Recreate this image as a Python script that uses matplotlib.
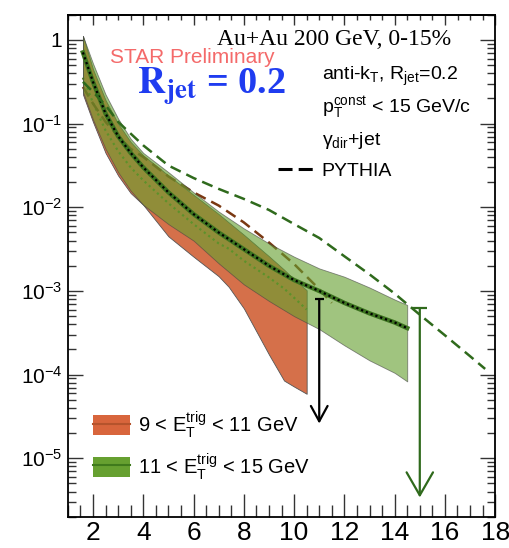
import matplotlib
matplotlib.use("Agg")
import matplotlib.pyplot as plt
from matplotlib.patches import Patch
from matplotlib.lines import Line2D
from matplotlib.ticker import MultipleLocator, LogLocator, NullFormatter

plt.rcParams['font.family'] = ['Liberation Sans', 'DejaVu Sans']
plt.rcParams['mathtext.fontset'] = 'custom'
plt.rcParams['mathtext.rm'] = 'Liberation Sans'
plt.rcParams['mathtext.it'] = 'Liberation Sans:italic'
plt.rcParams['mathtext.bf'] = 'Liberation Sans:bold'

# 9 < ET(trig) < 11 GeV : systematic band + central value
x_9_11 = [1.6, 2.0, 2.5, 3.0, 3.5, 4.0, 5.0, 6.0, 7.0, 7.4, 8.0, 9.0, 9.6, 10.0, 10.5]
hi_9_11 = [1.12, 0.447, 0.191, 0.100, 0.0603, 0.0417, 0.024, 0.0141, 8.3e-3, 6.6e-3,
           4.7e-3, 2.6e-3, 1.8e-3, 1.38e-3, 1.02e-3]
lo_9_11 = [0.224, 0.105, 0.0447, 0.024, 0.0148, 0.0107, 4.5e-3, 2.57e-3, 1.5e-3, 1.12e-3,
           6.2e-4, 1.74e-4, 8.5e-5, 7.2e-5, 5.9e-5]
mid_9_11 = [0.355, 0.178, 0.083, 0.047, 0.030, 0.021, 0.0112, 6.3e-3, 3.7e-3, 3.2e-3,
            2.3e-3, 1.45e-3, 1.07e-3, 8.3e-4, 6.0e-4]

# 11 < ET(trig) < 15 GeV
x_11_15 = [1.6, 2.0, 2.5, 3.0, 3.5, 4.0, 5.0, 6.0, 7.0, 8.0, 9.0, 10.0, 11.0, 12.0, 13.0, 14.0, 14.5]
hi_11_15 = [1.12, 0.525, 0.224, 0.115, 0.066, 0.0447, 0.0263, 0.0151, 8.9e-3, 5.6e-3,
            3.7e-3, 2.57e-3, 1.86e-3, 1.48e-3, 1.1e-3, 7.9e-4, 6.8e-4]
lo_11_15 = [0.24, 0.112, 0.05, 0.0263, 0.0158, 0.0107, 6.3e-3, 4.0e-3, 2.14e-3, 1.2e-3,
            7.6e-4, 5.0e-4, 3.5e-4, 2.24e-4, 1.48e-4, 1.05e-4, 8.3e-5]
mid_11_15 = [0.71, 0.316, 0.132, 0.0708, 0.0447, 0.030, 0.0151, 8.3e-3, 5.0e-3, 3.16e-3,
             2.0e-3, 1.35e-3, 1.0e-3, 7.2e-4, 5.4e-4, 4.2e-4, 3.6e-4]

# PYTHIA curves
x_py_9_11 = [1.6, 2.0, 2.5, 3.0, 3.5, 4.0, 5.0, 6.0, 7.0, 8.0, 9.0, 10.0, 11.0, 11.5]
py_9_11 = [0.275, 0.174, 0.105, 0.0708, 0.05, 0.04, 0.0234, 0.0151, 0.0105, 6.6e-3,
           3.8e-3, 2.1e-3, 1.05e-3, 7.2e-4]
x_py_11_15 = [1.6, 2.0, 2.5, 3.0, 3.5, 4.0, 5.0, 6.0, 7.0, 8.0, 9.0, 10.0, 11.0, 12.0,
              13.0, 14.0, 15.0, 16.0, 17.0, 17.6]
py_11_15 = [0.316, 0.24, 0.166, 0.105, 0.076, 0.055, 0.0316, 0.0224, 0.0166, 0.0126,
            9.3e-3, 6.3e-3, 4.3e-3, 2.6e-3, 1.58e-3, 9.3e-4, 5.2e-4, 2.95e-4, 1.66e-4, 1.17e-4]

# upper limits (x, top, arrow tip)
lim_9_11 = (11.0, 8e-4, 2.6e-5)
lim_11_15 = (15.0, 6.2e-4, 3.4e-6)

ylabels = ['$10^{-5}$', '$10^{-4}$', '$10^{-3}$', '$10^{-2}$', '$10^{-1}$', '1']
yticks = [1e-5, 1e-4, 1e-3, 1e-2, 1e-1, 1]

c_orange = '#d5704a'
c_green = '#66a030'
c_dkgreen = '#2f6a1c'
c_brown = '#7a3812'

fig = plt.figure(figsize=(5.1, 5.48), dpi=100)
ax = fig.add_axes([0.133, 0.057, 0.838, 0.916])

ax.fill_between(x_9_11, lo_9_11, hi_9_11, color=c_orange, edgecolor='#555555', lw=0.6, zorder=1)
ax.plot(x_9_11, mid_9_11, color='#4f7a22', lw=1.6, ls=(0, (1, 1.5)), zorder=2)
ax.plot(x_py_9_11, py_9_11, color=c_brown, lw=1.8, ls=(0, (4.5, 2.5)), zorder=2)

ax.fill_between(x_11_15, lo_11_15, hi_11_15, color=c_green, alpha=0.62,
                edgecolor='#444444', lw=0.6, zorder=3)
ax.plot(x_11_15, mid_11_15, color='#3d7420', lw=3.2, zorder=4)
ax.plot(x_11_15, mid_11_15, color='black', lw=1.6, ls=(0, (1, 1.3)), zorder=5)
ax.plot(x_py_11_15, py_11_15, color=c_dkgreen, lw=1.8, ls=(0, (4.5, 2.5)), zorder=6)

# upper limit arrows
for (xl, top, tip), col, hl, hw, cap in [(lim_9_11, 'black', 1.1, 0.6, 0.18),
                                         (lim_11_15, c_dkgreen, 1.65, 0.95, 0.3)]:
    ax.annotate('', xy=(xl, tip), xytext=(xl, top),
                arrowprops=dict(arrowstyle=f'->,head_length={hl},head_width={hw}',
                                color=col, lw=1.6, shrinkA=0, shrinkB=0), zorder=7)
    ax.hlines(top, xl - cap, xl + cap, color=col, lw=1.6, zorder=7)

ax.set_yscale('log')
ax.set_xlim(1, 18)
ax.set_ylim(2e-6, 2)
ax.set_yticks(yticks)
ax.set_yticklabels(ylabels)
ax.yaxis.set_minor_locator(LogLocator(base=10, subs=range(2, 10), numticks=20))
ax.yaxis.set_minor_formatter(NullFormatter())
ax.xaxis.set_major_locator(MultipleLocator(2))
ax.xaxis.set_minor_locator(MultipleLocator(0.5))
ax.tick_params(which='both', direction='in', right=True, width=1.0, color='#333333')
ax.tick_params(axis='x', which='major', length=16.5)
ax.tick_params(axis='x', which='minor', length=8.6)
ax.tick_params(axis='y', which='major', length=11)
ax.tick_params(axis='y', which='minor', length=5.8)
ax.tick_params(axis='x', labelsize=19, pad=3)
ax.tick_params(axis='y', labelsize=15, pad=4)

# shorter ticks along the top edge
top = ax.secondary_xaxis('top')
top.xaxis.set_major_locator(MultipleLocator(2))
top.xaxis.set_minor_locator(MultipleLocator(0.5))
top.tick_params(which='both', direction='in', labeltop=False, width=1.0, color='#333333')
top.tick_params(which='major', length=7)
top.tick_params(which='minor', length=3.6)

for sp in list(ax.spines.values()) + list(top.spines.values()):
    sp.set_linewidth(1.3)

# labels
ax.text(0.349, 0.940, 'Au+Au 200 GeV, 0-15%', transform=ax.transAxes,
        fontsize=17, family='Liberation Serif', va='baseline')
ax.text(0.098, 0.9035, 'STAR Preliminary', transform=ax.transAxes,
        fontsize=15, color='#f46a6a', va='baseline')
ax.text(0.162, 0.843, r'$\mathbf{R_{jet}}$ = 0.2', transform=ax.transAxes,
        fontsize=27.5, color='#1f3cf0', family='Liberation Serif', weight='bold',
        math_fontfamily='stix', va='baseline')
ax.text(0.595, 0.870, r'anti-k$_{\mathrm{T}}$, R$_{\mathrm{jet}}$=0.2', transform=ax.transAxes,
        fontsize=14, va='baseline')
ax.text(0.595, 0.805, r'p$_{\mathrm{T}}^{\mathrm{const}}$ < 15 GeV/c', transform=ax.transAxes,
        fontsize=14, va='baseline')
ax.text(0.595, 0.741, r'γ$_{\mathrm{dir}}$+jet', transform=ax.transAxes,
        fontsize=14, va='baseline')

py_leg = ax.legend(handles=[Line2D([], [], color='black', lw=2.2, ls=(0, (4.6, 2)))],
                   labels=['PYTHIA'], loc='center left', bbox_to_anchor=(0.492, 0.689),
                   frameon=False, fontsize=14, handlelength=1.8, handletextpad=0.45,
                   borderpad=0, borderaxespad=0)
ax.add_artist(py_leg)

band_handles = [(Patch(facecolor='#d8653c', edgecolor='none'), Line2D([], [], color='#b5532c', lw=1.5)),
                (Patch(facecolor=c_green, edgecolor='none'), Line2D([], [], color='#3f7a1c', lw=1.5))]
band_labels = [r'9 < E$_{\mathrm{T}}^{\mathrm{trig}}$ < 11 GeV',
               r'11 < E$_{\mathrm{T}}^{\mathrm{trig}}$ < 15 GeV']
ax.legend(band_handles, band_labels, loc='lower left', bbox_to_anchor=(0.0585, 0.07),
          frameon=False, fontsize=14.5, handlelength=1.84, handleheight=1.14,
          handletextpad=0.4, labelspacing=0.55, borderpad=0, borderaxespad=0)

fig.savefig('out.png', dpi=100)
